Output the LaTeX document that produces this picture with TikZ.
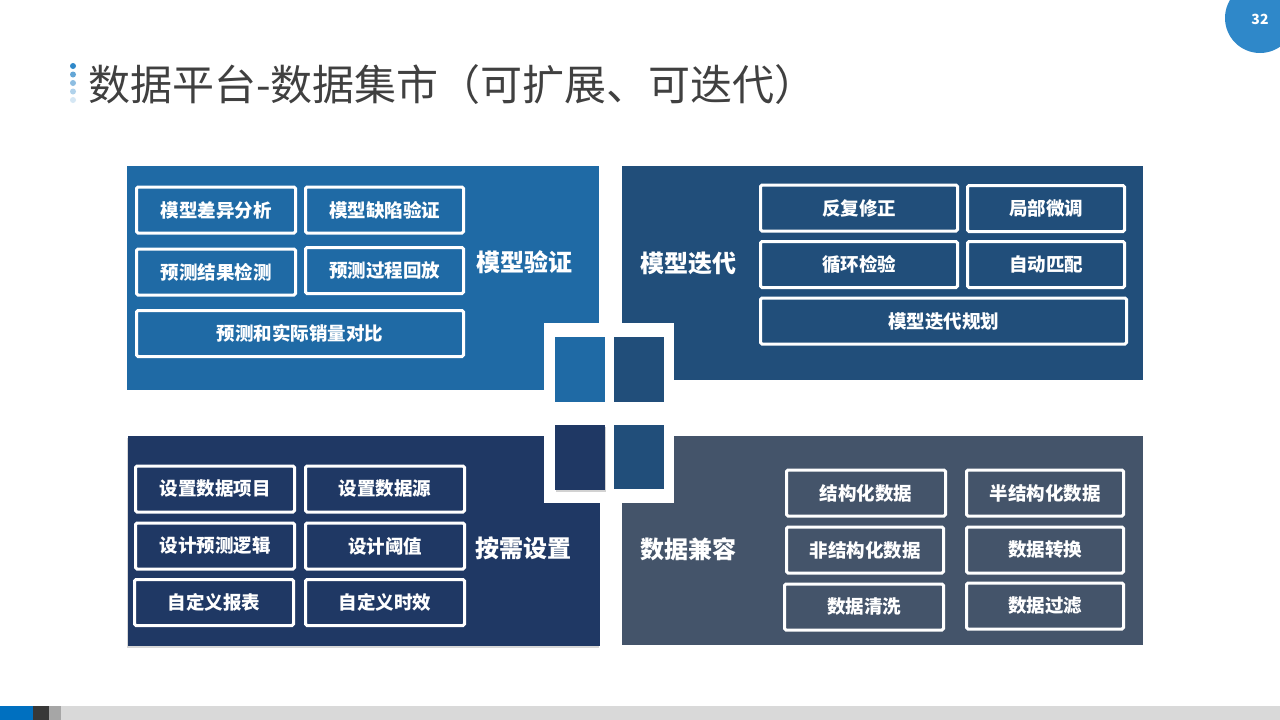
\documentclass[tikz,border=0pt]{standalone}
\usepackage{fontspec}
\setmainfont{Noto Sans CJK SC}
\usepackage{xcolor}
\usepackage{tikz}
\usetikzlibrary{shadows}
\definecolor{blkBlue}{RGB}{31,106,165}
\definecolor{blkNavy}{RGB}{33,78,122}
\definecolor{blkDeep}{RGB}{31,56,100}
\definecolor{blkSlate}{RGB}{68,84,106}
\definecolor{ttlGray}{RGB}{64,64,64}
\definecolor{pgBlue}{RGB}{47,136,201}
\definecolor{barBlue}{RGB}{0,112,192}
\tikzset{
  subbox/.style={draw=white, line width=3pt, rounded corners=1.5pt, text=white,
    font=\bfseries\fontsize{18.5}{18.5}\selectfont, minimum height=46pt, inner sep=0pt},
  blklabel/.style={text=white, font=\bfseries\fontsize{24}{24}\selectfont, inner sep=0pt},
}

\begin{document}
\begin{tikzpicture}[x=1pt,y=-1pt]
\useasboundingbox (0,0) rectangle (1280,720);
\fill[white] (0,0) rectangle (1280,720);

% title with dots
\foreach \k/\c in {0/pgBlue,1/pgBlue!75,2/pgBlue!55,3/pgBlue!38,4/pgBlue!20}{
  \fill[\c] (73,66+8.5*\k) circle (3);
}
\node[anchor=west, text=ttlGray, font=\fontsize{42}{42}\selectfont, inner sep=0pt] (title) at (88,85)
  {数据平台-数据集市（可扩展、可迭代）};

% page number
\fill[pgBlue] (1260,18) circle (35);
\node[text=white, font=\bfseries\fontsize{14}{14}\selectfont] (pgno) at (1260,19) {32};

% bottom bar
\fill[black!15] (61,706) rectangle (1280,720);
\fill[black!35] (49,706) rectangle (61,720);
\fill[black!78] (33,706) rectangle (49,720);
\fill[barBlue] (0,706) rectangle (33,720);

% four blocks
\fill[blkBlue] (127,166) rectangle (599,390);
\fill[blkNavy] (622,166) rectangle (1143,380);
\fill[blkDeep, drop shadow={opacity=0.3, shadow xshift=-1pt, shadow yshift=-2pt}] (128,436) rectangle (600,646);
\fill[blkSlate] (622,436) rectangle (1143,645);

% center frame and squares
\fill[white] (544,323) rectangle (674,503);
\fill[blkBlue] (555,337) rectangle (605,402);
\fill[blkNavy] (614,337) rectangle (664,402);
\fill[blkDeep, drop shadow={opacity=0.35, shadow xshift=1pt, shadow yshift=-2pt}] (555,425) rectangle (605,490);
\fill[blkNavy] (614,425) rectangle (664,489);

% block labels
\node[blklabel] (yanzheng) at (524,262) {模型验证};
\node[blklabel] (diedai) at (688,263) {模型迭代};
\node[blklabel] (shezhi) at (523,548) {按需设置};
\node[blklabel] (jianrong) at (688,549) {数据兼容};

% sub boxes
\foreach \n/\x/\y/\w/\t in {
  mcy/216/210/159/模型差异分析, mqx/384.5/210/158/模型缺陷验证,
  jgjc/216/272/159/预测结果检测, gchf/384.5/270.5/158/预测过程回放,
  xldb/300/333.5/327/预测和实际销量对比,
  fxxz/859/208/197/反复修正, jbwt/1046/208.5/157/局部微调,
  xhjy/859/264.5/197/循环检验, zdpp/1046/264.5/157/自动匹配,
  ddgh/943.5/321/366/模型迭代规划,
  xmu/215/489/159/设置数据项目, sjy/385/489/159/设置数据源,
  ljd/215/546/159/设计预测逻辑, yz/385/546/159/设计阈值,
  bb/214/602.5/159/自定义报表, sx/385/602.5/159/自定义时效,
  jgh/866/493/159/结构化数据, bjg/1045/493/157/半结构化数据,
  fjg/865/550/157/非结构化数据, zh/1045/550/157/数据转换,
  qx/864/607/159/数据清洗, gl/1045/606/157/数据过滤}{
  \node[subbox, minimum width=\w pt] (\n) at (\x,\y) {\t};
}
\end{tikzpicture}
\end{document}
